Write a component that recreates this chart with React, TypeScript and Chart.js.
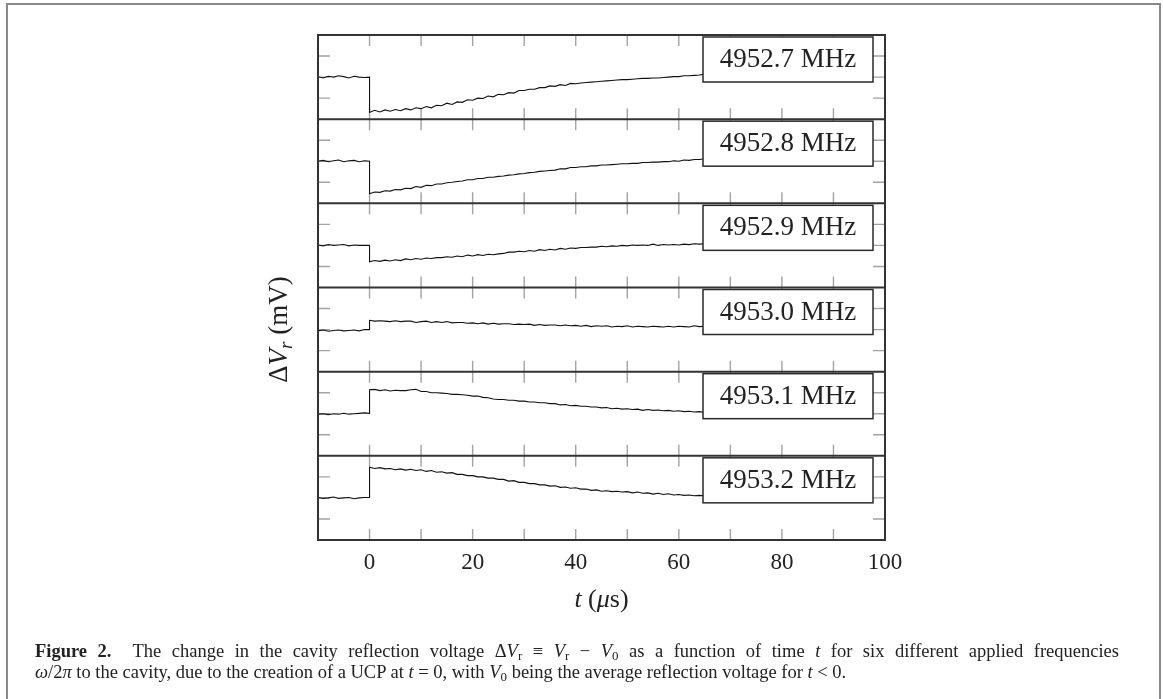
import React, { useEffect, useRef } from 'react';
import { Chart, registerables } from 'chart.js';

Chart.register(...registerables);

// time samples (µs); t = 0 appears twice for the step
const timeUs = [
  -10, -9, -8, -7, -6, -5, -4, -3, -2, -1, 0,
  0, 1, 2, 3, 4, 5, 6, 7, 8, 9,
  10, 11, 12, 13, 14, 15, 16, 17, 18, 19,
  20, 21, 22, 23, 24, 25, 26, 27, 28, 29,
  30, 31, 32, 33, 34, 35, 36, 37, 38, 39,
  40, 41, 42, 43, 44, 45, 46, 47, 48, 49,
  50, 51, 52, 53, 54, 55, 56, 57, 58, 59,
  60, 61, 62, 63, 64, 65,
];

const freqLabels = ['4952.7 MHz', '4952.8 MHz', '4952.9 MHz', '4953.0 MHz', '4953.1 MHz', '4953.2 MHz'];

const dV_49527 = [
  0.01, -0.02, 0.02, 0.00, 0.03, 0.01, -0.02, 0.02, 0.00, -0.01, 0.00,
  -0.84, -0.79, -0.83, -0.78, -0.81, -0.77, -0.80, -0.75, -0.78, -0.73,
  -0.75, -0.70, -0.73, -0.67, -0.68, -0.62, -0.65, -0.59, -0.60, -0.54,
  -0.55, -0.50, -0.51, -0.45, -0.47, -0.41, -0.42, -0.37, -0.38, -0.32,
  -0.32, -0.29, -0.29, -0.25, -0.25, -0.21, -0.22, -0.18, -0.20, -0.15,
  -0.16, -0.14, -0.13, -0.12, -0.11, -0.10, -0.09, -0.08, -0.07, -0.06,
  -0.06, -0.05, -0.04, -0.03, -0.03, -0.02, -0.02, -0.01, 0.00, 0.01,
  0.01, 0.03, 0.03, 0.04, 0.05, 0.07,
];
const dV_49528 = [
  0.00, 0.02, -0.01, 0.01, 0.03, -0.01, 0.01, 0.02, -0.01, 0.01, 0.00,
  -0.77, -0.73, -0.74, -0.70, -0.71, -0.67, -0.68, -0.64, -0.65, -0.60,
  -0.62, -0.57, -0.58, -0.54, -0.54, -0.51, -0.50, -0.48, -0.47, -0.44,
  -0.44, -0.41, -0.41, -0.38, -0.38, -0.36, -0.35, -0.33, -0.32, -0.30,
  -0.29, -0.27, -0.26, -0.24, -0.23, -0.22, -0.21, -0.18, -0.18, -0.15,
  -0.15, -0.13, -0.13, -0.11, -0.11, -0.09, -0.09, -0.08, -0.07, -0.06,
  -0.06, -0.05, -0.05, -0.03, -0.03, -0.02, -0.02, -0.01, -0.01, 0.01,
  0.00, 0.03, 0.02, 0.04, 0.04, 0.06,
];
const dV_49529 = [
  0.01, -0.01, 0.02, 0.00, 0.01, 0.02, -0.01, 0.01, 0.00, 0.00, 0.00,
  -0.39, -0.36, -0.38, -0.35, -0.37, -0.34, -0.36, -0.32, -0.34, -0.31,
  -0.33, -0.30, -0.31, -0.29, -0.29, -0.27, -0.28, -0.25, -0.27, -0.23,
  -0.25, -0.22, -0.24, -0.21, -0.22, -0.20, -0.19, -0.16, -0.16, -0.14,
  -0.15, -0.12, -0.14, -0.10, -0.12, -0.09, -0.11, -0.07, -0.09, -0.06,
  -0.07, -0.05, -0.05, -0.04, -0.04, -0.02, -0.03, -0.01, -0.02, 0.00,
  -0.01, 0.01, 0.00, 0.01, 0.00, 0.03, 0.00, 0.02, 0.01, 0.02,
  0.01, 0.03, 0.02, 0.04, 0.03, 0.04,
];
const dV_49530 = [
  -0.03, -0.01, -0.04, -0.02, -0.01, -0.03, -0.02, -0.01, -0.03, 0.00, 0.00,
  0.22, 0.20, 0.21, 0.20, 0.19, 0.21, 0.19, 0.20, 0.20, 0.17,
  0.19, 0.20, 0.17, 0.19, 0.17, 0.19, 0.16, 0.17, 0.17, 0.15,
  0.16, 0.14, 0.16, 0.13, 0.15, 0.13, 0.14, 0.14, 0.12, 0.13,
  0.12, 0.13, 0.10, 0.12, 0.10, 0.11, 0.11, 0.09, 0.11, 0.09,
  0.10, 0.08, 0.10, 0.07, 0.09, 0.08, 0.09, 0.06, 0.08, 0.07,
  0.09, 0.06, 0.08, 0.07, 0.06, 0.08, 0.07, 0.06, 0.08, 0.06,
  0.08, 0.07, 0.06, 0.09, 0.07, 0.08,
];
const dV_49531 = [
  -0.01, 0.00, -0.02, 0.00, -0.01, 0.01, -0.01, 0.00, 0.01, 0.02, 0.01,
  0.57, 0.58, 0.55, 0.57, 0.54, 0.56, 0.55, 0.55, 0.57, 0.58,
  0.53, 0.53, 0.50, 0.50, 0.49, 0.48, 0.46, 0.46, 0.45, 0.44,
  0.42, 0.42, 0.39, 0.38, 0.35, 0.34, 0.34, 0.32, 0.32, 0.30,
  0.30, 0.28, 0.28, 0.26, 0.26, 0.24, 0.24, 0.21, 0.22, 0.19,
  0.20, 0.18, 0.18, 0.16, 0.16, 0.14, 0.15, 0.12, 0.13, 0.11,
  0.12, 0.10, 0.11, 0.08, 0.10, 0.08, 0.09, 0.07, 0.08, 0.06,
  0.07, 0.05, 0.06, 0.04, 0.05, 0.03,
];
const dV_49532 = [
  0.01, -0.01, 0.00, 0.02, -0.01, 0.00, 0.01, -0.02, 0.00, 0.01, 0.01,
  0.73, 0.70, 0.72, 0.69, 0.70, 0.67, 0.69, 0.66, 0.68, 0.65,
  0.67, 0.63, 0.65, 0.61, 0.62, 0.59, 0.60, 0.56, 0.56, 0.53,
  0.53, 0.50, 0.50, 0.47, 0.47, 0.44, 0.44, 0.40, 0.41, 0.37,
  0.37, 0.34, 0.34, 0.31, 0.31, 0.28, 0.29, 0.25, 0.26, 0.23,
  0.24, 0.21, 0.21, 0.18, 0.19, 0.16, 0.17, 0.15, 0.16, 0.14,
  0.15, 0.12, 0.14, 0.11, 0.12, 0.09, 0.11, 0.08, 0.10, 0.07,
  0.08, 0.06, 0.07, 0.05, 0.06, 0.05,
];

const seriesList = [dV_49527, dV_49528, dV_49529, dV_49530, dV_49531, dV_49532];
const panelIds = ['p0', 'p1', 'p2', 'p3', 'p4', 'p5'];
const xTickMarks = [0, 10, 20, 30, 40, 50, 60, 70, 80, 90];
const xTickLabels = [0, 20, 40, 60, 80, 100];
const yTickMarks = [-0.5, 0, 0.5];

const SERIF = '"Liberation Serif", "Times New Roman", serif';

type Run = { t: string; f: string; dy?: number };

function drawRuns(ctx: CanvasRenderingContext2D, runs: Run[], cx: number, baseline: number) {
  let total = 0;
  runs.forEach((r) => { ctx.font = r.f; total += ctx.measureText(r.t).width; });
  let x = cx - total / 2;
  ctx.textAlign = 'left';
  ctx.textBaseline = 'alphabetic';
  runs.forEach((r) => {
    ctx.font = r.f;
    ctx.fillText(r.t, x, baseline + (r.dy || 0));
    x += ctx.measureText(r.t).width;
  });
}

const panelPlugin = {
  id: 'panelDecor',
  beforeDatasetsDraw(chart: any) {
    const ctx: CanvasRenderingContext2D = chart.ctx;
    const { left, right } = chart.chartArea;
    const xs = chart.scales.x;
    ctx.save();
    ctx.strokeStyle = '#a3a3a3';
    ctx.lineWidth = 1.4;
    panelIds.forEach((id) => {
      const ys = chart.scales[id];
      ctx.beginPath();
      xTickMarks.forEach((t) => {
        const px = xs.getPixelForValue(t);
        ctx.moveTo(px, ys.top);
        ctx.lineTo(px, ys.top + 11);
        ctx.moveTo(px, ys.bottom);
        ctx.lineTo(px, ys.bottom - 11);
      });
      yTickMarks.forEach((v) => {
        const py = ys.getPixelForValue(v);
        ctx.moveTo(left, py);
        ctx.lineTo(left + 12, py);
        ctx.moveTo(right, py);
        ctx.lineTo(right - 12, py);
      });
      ctx.stroke();
    });
    ctx.restore();
  },
  afterDatasetsDraw(chart: any) {
    const ctx: CanvasRenderingContext2D = chart.ctx;
    const { left, right, top, bottom } = chart.chartArea;
    ctx.save();
    panelIds.forEach((id, i) => {
      const ys = chart.scales[id];
      const bw = 170, bh = 45;
      const bx = right - 12 - bw;
      const by = ys.top + 2;
      ctx.fillStyle = '#ffffff';
      ctx.fillRect(bx, by, bw, bh);
      ctx.strokeStyle = '#2a2a2a';
      ctx.lineWidth = 1.5;
      ctx.strokeRect(bx, by, bw, bh);
      ctx.fillStyle = '#222';
      ctx.font = `27px ${SERIF}`;
      ctx.textAlign = 'center';
      ctx.textBaseline = 'alphabetic';
      ctx.fillText(freqLabels[i], bx + bw / 2, by + 30);
    });
    ctx.strokeStyle = '#333';
    ctx.lineWidth = 2;
    ctx.beginPath();
    panelIds.forEach((id) => {
      const ys = chart.scales[id];
      ctx.moveTo(left, ys.top);
      ctx.lineTo(right, ys.top);
    });
    ctx.stroke();
    ctx.strokeRect(left, top, right - left, bottom - top);
    ctx.restore();
  },
  afterDraw(chart: any) {
    const ctx: CanvasRenderingContext2D = chart.ctx;
    const { left, right } = chart.chartArea;
    ctx.save();
    ctx.fillStyle = '#222';
    drawRuns(ctx, [
      { t: 't', f: `italic 26px ${SERIF}` },
      { t: ' (', f: `26px ${SERIF}` },
      { t: 'μ', f: `italic 26px ${SERIF}` },
      { t: 's)', f: `26px ${SERIF}` },
    ], (left + right) / 2, 607);
    const ys = chart.scales['p3'];
    const cy = (ys.top + ys.bottom) / 2;
    ctx.translate(278, cy);
    ctx.rotate(-Math.PI / 2);
    drawRuns(ctx, [
      { t: 'Δ', f: `27px ${SERIF}` },
      { t: 'V', f: `italic 27px ${SERIF}` },
      { t: 'r', f: `italic 19px ${SERIF}`, dy: 5 },
      { t: ' (mV)', f: `27px ${SERIF}` },
    ], 0, 9);
    ctx.restore();
  },
};

export default function App() {
  const canvasRef = useRef<HTMLCanvasElement | null>(null);

  useEffect(() => {
    if (!canvasRef.current) return;
    const datasets = seriesList.map((vals, i) => ({
      label: freqLabels[i],
      data: timeUs.map((t, k) => ({ x: t, y: vals[k] })),
      yAxisID: panelIds[i],
      borderColor: '#111',
      borderWidth: 1.1,
      pointRadius: 0,
      tension: 0,
      fill: false,
    }));
    const scales: any = {
      x: {
        type: 'linear',
        min: -10,
        max: 100,
        position: 'bottom',
        afterFit: (s: any) => { s.height = 159; },
        afterBuildTicks: (s: any) => { s.ticks = xTickLabels.map((v) => ({ value: v })); },
        grid: { display: false, drawTicks: false },
        border: { display: false },
        ticks: {
          color: '#222',
          padding: 9,
          maxRotation: 0,
          autoSkip: false,
          font: { family: SERIF, size: 23 },
          callback: (v: any) => String(v),
        },
      },
    };
    // left-stacked scales are laid out last-defined on top, so define bottom panel first
    [...panelIds].reverse().forEach((id) => {
      scales[id] = {
        type: 'linear',
        min: -1,
        max: 1,
        position: 'left',
        stack: 'panels',
        stackWeight: 1,
        offset: false,
        display: false,
      };
    });
    const chart = new Chart(canvasRef.current, {
      type: 'line',
      data: { datasets },
      options: {
        animation: false,
        responsive: false,
        devicePixelRatio: 1,
        layout: { padding: { left: 318, top: 35, right: 278, bottom: 0 } },
        plugins: { legend: { display: false }, tooltip: { enabled: false } },
        scales,
      } as any,
      plugins: [panelPlugin as any],
    });
    return () => chart.destroy();
  }, []);

  const italic = { fontStyle: 'italic' } as React.CSSProperties;
  const sub = { fontSize: '70%', verticalAlign: '-0.25em', lineHeight: 0 } as React.CSSProperties;

  return (
    <div>
      <div style={{ position: 'absolute', left: 6, top: 3, width: 1155, height: 696, boxSizing: 'border-box', border: '2.5px solid #888', borderBottom: 'none' }} />
      <canvas ref={canvasRef} width={1163} height={699} style={{ position: 'absolute', left: 0, top: 0, width: 1163, height: 699 }} />
      <div style={{ position: 'absolute', left: 35, top: 641, width: 1084, fontFamily: SERIF, fontSize: 18.5, lineHeight: '21px', color: '#222' }}>
        <div style={{ textAlign: 'justify', textAlignLast: 'justify', whiteSpace: 'nowrap' } as React.CSSProperties}>
          <b>Figure 2.</b>{'\u00a0\u00a0'}The change in the cavity reflection voltage Δ<span style={italic}>V</span><span style={sub}>r</span> ≡ <span style={italic}>V</span><span style={sub}>r</span> − <span style={italic}>V</span><span style={sub}>0</span> as a function of time <span style={italic}>t</span> for six different applied frequencies
        </div>
        <div style={{ whiteSpace: 'nowrap' }}>
          <span style={italic}>ω</span>/2<span style={italic}>π</span> to the cavity, due to the creation of a UCP at <span style={italic}>t</span> = 0, with <span style={italic}>V</span><span style={sub}>0</span> being the average reflection voltage for <span style={italic}>t</span> &lt; 0.
        </div>
      </div>
    </div>
  );
}
